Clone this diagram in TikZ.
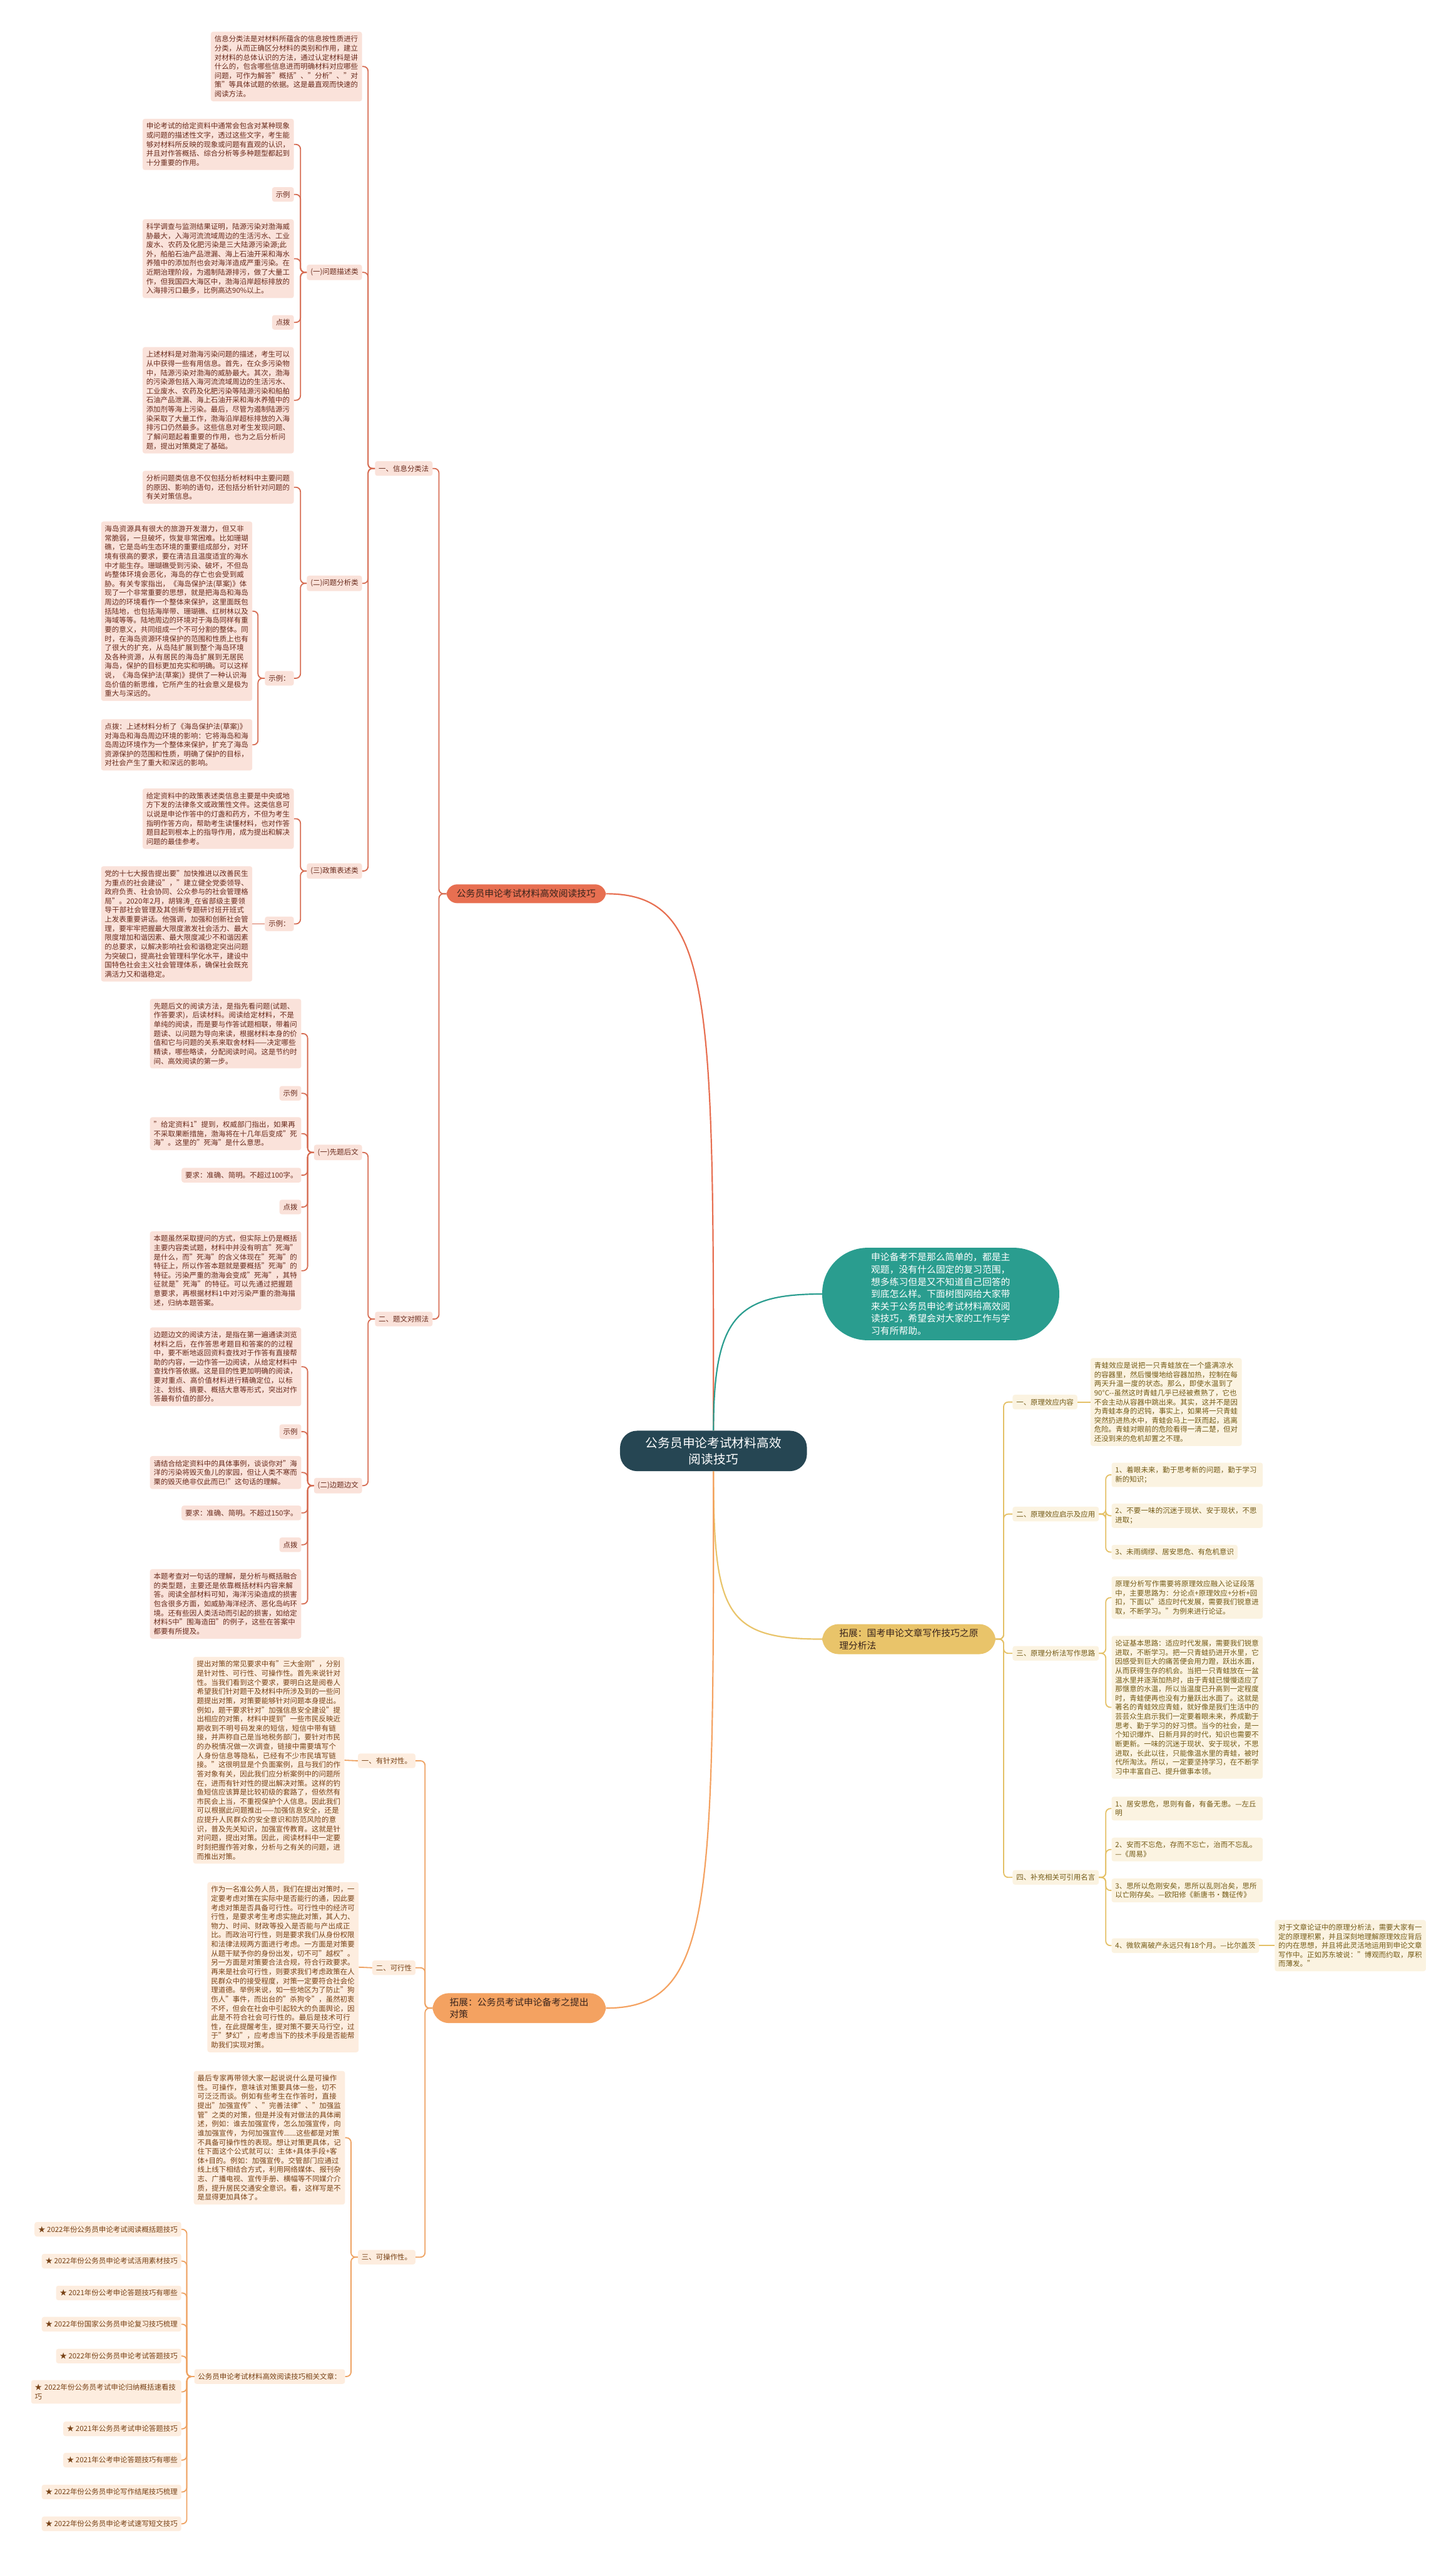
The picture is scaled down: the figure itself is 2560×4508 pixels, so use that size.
\documentclass[tikz,border=0pt]{standalone}
\usepackage{fontspec}
\setmainfont{Noto Sans CJK SC}
\XeTeXlinebreaklocale "zh"
\XeTeXlinebreakskip = 0pt plus 1pt
\usepackage{tikz}
\definecolor{rootc}{RGB}{38,70,83}
\definecolor{tealc}{RGB}{42,157,143}
\definecolor{yelc}{RGB}{233,196,106}
\definecolor{orgc}{RGB}{244,162,97}
\definecolor{redc}{RGB}{231,111,81}
\definecolor{redlt}{RGB}{250,226,218}
\definecolor{redtx}{RGB}{105,42,28}
\definecolor{redln}{RGB}{214,108,82}
\definecolor{orglt}{RGB}{253,237,223}
\definecolor{orgtx}{RGB}{120,66,22}
\definecolor{orgln}{RGB}{238,162,98}
\definecolor{yellt}{RGB}{251,243,225}
\definecolor{yeltx}{RGB}{115,90,22}
\definecolor{yelln}{RGB}{228,192,102}
\definecolor{darktx}{RGB}{58,36,28}

\begin{document}
\begin{tikzpicture}[
	x=1pt, y=-1pt,
	base/.style={font=\fontsize{12.6}{16.1}\selectfont, inner xsep=6.5pt,
		inner ysep=7pt, rounded corners=4pt, align=left},
	rbox/.style={base, fill=redlt, text=redtx},
	obox/.style={base, fill=orglt, text=orgtx},
	ybox/.style={base, fill=yellt, text=yeltx},
	wide/.style={text width=253pt},
	topic/.style={font=\fontsize{16.3}{21.6}\selectfont, align=left,
		text width=245pt, inner xsep=30pt, inner ysep=8pt, rounded corners=29pt},
	rl/.style={draw=redln, line width=2pt, rounded corners=8pt},
	ol/.style={draw=orgln, line width=2pt, rounded corners=8pt},
	yl/.style={draw=yelln, line width=2pt, rounded corners=8pt}
	]
	\useasboundingbox (0,0) rectangle (2560,4508);
	
	% center and main branches
	\node[fill=rootc, text=white, rounded corners=30pt, align=center,
		font=\fontsize{21.7}{29}\selectfont, inner xsep=45pt, inner ysep=11pt]
		(root) at (1255,2552) {公务员申论考试材料高效\\阅读技巧};
	\node[topic, fill=tealc, text=white, inner xsep=86pt, inner ysep=9pt,
		rounded corners=80pt, anchor=west] (intro) at (1446,2276)
		{申论备考不是那么简单的，都是主观题，没有什么固定的复习范围，想多练习但是又不知道自己回答的到底怎么样。下面树图网给大家带来关于公务员申论考试材料高效阅读技巧，希望会对大家的工作与学习有所帮助。};
	\node[fill=redc, text=darktx, font=\fontsize{16.3}{21.6}\selectfont,
		inner xsep=18pt, inner ysep=9pt, rounded corners=19pt, anchor=east]
		(fa) at (1066,1572) {公务员申论考试材料高效阅读技巧};
	\node[topic, fill=yelc, text=darktx, anchor=west] (tz1) at (1446,2883)
		{拓展：国考申论文章写作技巧之原理分析法};
	\node[topic, fill=orgc, text=darktx, anchor=east] (tz2) at (1066,3532)
		{拓展：公务员考试申论备考之提出对策};
	
	\draw[redc, line width=2.4pt] (root.north) .. controls +(0,-760) and +(190,0) .. (fa.east);
	\draw[tealc, line width=2.4pt] (root.north) .. controls +(0,-200) and +(-150,0) .. (intro.west);
	\draw[yelc, line width=2.4pt] (root.south) .. controls +(0,250) and +(-170,0) .. (tz1.west);
	\draw[orgc, line width=2.4pt] (root.south) .. controls +(0,760) and +(190,0) .. (tz2.east);
	
	% red branch
	\node[rbox, anchor=east] (m1) at (761,824) {一、信息分类法};
	\node[rbox, anchor=east] (m2) at (761,2320) {二、题文对照法};
	
	\node[rbox, wide, anchor=east] (m1t) at (637,117) {信息分类法是对材料所蕴含的信息按性质进行分类，从而正确区分材料的类别和作用，建立对材料的总体认识的方法，通过认定材料是讲什么的，包含哪些信息进而明确材料对应哪些问题，可作为解答"概括"、"分析"、"对策"等具体试题的依据。这是最直观而快速的阅读方法。};
	\node[rbox, anchor=east] (m1a) at (637,479) {(一)问题描述类};
	\node[rbox, anchor=east] (m1b) at (637,1026) {(二)问题分析类};
	\node[rbox, anchor=east] (m1c) at (637,1532) {(三)政策表述类};
	
	\node[rbox, wide, anchor=east] (m1a1) at (517,254) {申论考试的给定资料中通常会包含对某种现象或问题的描述性文字，透过这些文字，考生能够对材料所反映的现象或问题有直观的认识，并且对作答概括、综合分析等多种题型都起到十分重要的作用。};
	\node[rbox, anchor=east] (m1a2) at (517,342) {示例};
	\node[rbox, wide, anchor=east] (m1a3) at (517,455) {科学调查与监测结果证明，陆源污染对渤海威胁最大，入海河流流域周边的生活污水、工业废水、农药及化肥污染是三大陆源污染源;此外，船舶石油产品泄漏、海上石油开采和海水养殖中的添加剂也会对海洋造成严重污染。在近期治理阶段，为遏制陆源排污，做了大量工作，但我国四大海区中，渤海沿岸超标排放的入海排污口最多，比例高达90\%以上。};
	\node[rbox, anchor=east] (m1a4) at (517,567) {点拨};
	\node[rbox, wide, anchor=east] (m1a5) at (517,704) {上述材料是对渤海污染问题的描述，考生可以从中获得一些有用信息。首先，在众多污染物中，陆源污染对渤海的威胁最大。其次，渤海的污染源包括入海河流流域周边的生活污水、工业废水、农药及化肥污染等陆源污染和船舶石油产品泄漏、海上石油开采和海水养殖中的添加剂等海上污染。最后，尽管为遏制陆源污染采取了大量工作，渤海沿岸超标排放的入海排污口仍然最多。这些信息对考生发现问题、了解问题起着重要的作用，也为之后分析问题，提出对策奠定了基础。};
	
	\node[rbox, wide, anchor=east] (m1b1) at (517,857) {分析问题类信息不仅包括分析材料中主要问题的原因、影响的语句，还包括分析针对问题的有关对策信息。};
	\node[rbox, anchor=east] (m1b2) at (517,1193) {示例：};
	\node[rbox, wide, anchor=east] (m1b2a) at (444,1075) {海岛资源具有很大的旅游开发潜力，但又非常脆弱，一旦破坏，恢复非常困难。比如珊瑚礁，它是岛屿生态环境的重要组成部分，对环境有很高的要求，要在清洁且温度适宜的海水中才能生存。珊瑚礁受到污染、破坏，不但岛屿整体环境会恶化，海岛的存亡也会受到威胁。有关专家指出，《海岛保护法(草案)》体现了一个非常重要的思想，就是把海岛和海岛周边的环境看作一个整体来保护，这里面既包括陆地，也包括海岸带、珊瑚礁、红树林以及海域等等。陆地周边的环境对于海岛同样有重要的意义，共同组成一个不可分割的整体。同时，在海岛资源环境保护的范围和性质上也有了很大的扩充，从岛陆扩展到整个海岛环境及各种资源，从有居民的海岛扩展到无居民海岛，保护的目标更加充实和明确。可以这样说，《海岛保护法(草案)》提供了一种认识海岛价值的新思维，它所产生的社会意义是极为重大与深远的。};
	\node[rbox, wide, anchor=east] (m1b2b) at (444,1310) {点拨：上述材料分析了《海岛保护法(草案)》对海岛和海岛周边环境的影响：它将海岛和海岛周边环境作为一个整体来保护，扩充了海岛资源保护的范围和性质，明确了保护的目标，对社会产生了重大和深远的影响。};
	
	\node[rbox, wide, anchor=east] (m1c1) at (517,1440) {给定资料中的政策表述类信息主要是中央或地方下发的法律条文或政策性文件。这类信息可以说是申论作答中的灯盏和药方，不但为考生指明作答方向，帮助考生读懂材料，也对作答题目起到根本上的指导作用，成为提出和解决问题的最佳参考。};
	\node[rbox, anchor=east] (m1c2) at (517,1625) {示例：};
	\node[rbox, wide, anchor=east] (m1c2a) at (444,1625) {党的十七大报告提出要"加快推进以改善民生为重点的社会建设"，"建立健全党委领导、政府负责、社会协同、公众参与的社会管理格局"。2020年2月，胡锦涛\_在省部级主要领导干部社会管理及其创新专题研讨班开班式上发表重要讲话。他强调，加强和创新社会管理，要牢牢把握最大限度激发社会活力、最大限度增加和谐因素、最大限度减少不和谐因素的总要求，以解决影响社会和谐稳定突出问题为突破口，提高社会管理科学化水平，建设中国特色社会主义社会管理体系，确保社会既充满活力又和谐稳定。};
	
	\node[rbox, anchor=east] (m2a) at (637,2027) {(一)先题后文};
	\node[rbox, anchor=east] (m2b) at (637,2613) {(二)边题边文};
	
	\node[rbox, wide, anchor=east] (m2a1) at (530,1818) {先题后文的阅读方法，是指先看问题(试题、作答要求)，后读材料。阅读给定材料，不是单纯的阅读，而是要与作答试题相联，带着问题读、以问题为导向来读，根据材料本身的价值和它与问题的关系来取舍材料——决定哪些精读，哪些略读，分配阅读时间。这是节约时间、高效阅读的第一步。};
	\node[rbox, anchor=east] (m2a2) at (530,1923) {示例};
	\node[rbox, wide, anchor=east] (m2a3) at (530,1994) {"给定资料1"提到，权威部门指出，如果再不采取果断措施，渤海将在十几年后变成"死海"。这里的"死海"是什么意思。};
	\node[rbox, anchor=east] (m2a4) at (530,2067) {要求：准确、简明。不超过100字。};
	\node[rbox, anchor=east] (m2a5) at (530,2123) {点拨};
	\node[rbox, wide, anchor=east] (m2a6) at (530,2235) {本题虽然采取提问的方式，但实际上仍是概括主要内容类试题，材料中并没有明言"死海"是什么，而"死海"的含义体现在"死海"的特征上，所以作答本题就是要概括"死海"的特征。污染严重的渤海会变成"死海"，其特征就是"死海"的特征。可以先通过把握题意要求，再根据材料1中对污染严重的渤海描述，归纳本题答案。};
	
	\node[rbox, wide, anchor=east] (m2b1) at (530,2404) {边题边文的阅读方法，是指在第一遍通读浏览材料之后，在作答思考题目和答案的的过程中，要不断地返回资料查找对于作答有直接帮助的内容，一边作答一边阅读，从给定材料中查找作答依据。这是目的性更加明确的阅读，要对重点、高价值材料进行精确定位，以标注、划线、摘要、概括大意等形式，突出对作答最有价值的部分。};
	\node[rbox, anchor=east] (m2b2) at (530,2518) {示例};
	\node[rbox, wide, anchor=east] (m2b3) at (530,2590) {请结合给定资料中的具体事例，谈谈你对"海洋的污染将毁灭鱼儿的家园，但让人类不寒而栗的毁灭绝非仅此而已!"这句话的理解。};
	\node[rbox, anchor=east] (m2b4) at (530,2661) {要求：准确、简明。不超过150字。};
	\node[rbox, anchor=east] (m2b5) at (530,2717) {点拨};
	\node[rbox, wide, anchor=east] (m2b6) at (530,2821) {本题考查对一句话的理解，是分析与概括融合的类型题，主要还是依靠概括材料内容来解答。阅读全部材料可知，海洋污染造成的损害包含很多方面，如威胁海洋经济、恶化岛屿环境。还有些因人类活动而引起的损害，如给定材料5中"围海造田"的例子，这些在答案中都要有所提及。};
	
	\draw[rl] (fa.west) -- ++(-13,0) |- (m1.east);
	\draw[rl] (fa.west) -- ++(-13,0) |- (m2.east);
	\foreach \c in {m1t,m1a,m1b,m1c}
		\draw[rl] (m1.west) -- ++(-12,0) |- (\c.east);
	\foreach \c in {m1a1,m1a2,m1a3,m1a4,m1a5}
		\draw[rl] (m1a.west) -- ++(-11,0) |- (\c.east);
	\foreach \c in {m1b1,m1b2}
		\draw[rl] (m1b.west) -- ++(-11,0) |- (\c.east);
	\foreach \c in {m1b2a,m1b2b}
		\draw[rl] (m1b2.west) -- ++(-12,0) |- (\c.east);
	\foreach \c in {m1c1,m1c2}
		\draw[rl] (m1c.west) -- ++(-11,0) |- (\c.east);
	\draw[rl] (m1c2.west) -- (m1c2a.east);
	\foreach \c in {m2a,m2b}
		\draw[rl] (m2.west) -- ++(-12,0) |- (\c.east);
	\foreach \c in {m2a1,m2a2,m2a3,m2a4,m2a5,m2a6}
		\draw[rl] (m2a.west) -- ++(-11,0) |- (\c.east);
	\foreach \c in {m2b1,m2b2,m2b3,m2b4,m2b5,m2b6}
		\draw[rl] (m2b.west) -- ++(-11,0) |- (\c.east);
	
	% orange branch
	\node[obox, anchor=east] (d1) at (731,3097) {一、有针对性。};
	\node[obox, anchor=east] (d2) at (731,3461) {二、可行性};
	\node[obox, anchor=east] (d3) at (731,3970) {三、可操作性。};
	
	\node[obox, wide, anchor=east] (d1a) at (606,3096) {提出对策的常见要求中有"三大金刚"，分别是针对性、可行性、可操作性。首先来说针对性。当我们看到这个要求，要明白这是阅卷人希望我们针对题干及材料中所涉及到的一些问题提出对策，对策要能够针对问题本身提出。例如，题干要求针对"加强信息安全建设"提出相应的对策，材料中提到"一些市民反映近期收到不明号码发来的短信，短信中带有链接，并声称自己是当地税务部门，要针对市民的办税情况做一次调查，链接中需要填写个人身份信息等隐私，已经有不少市民填写链接。"这很明显是个负面案例，且与我们的作答对象有关，因此我们应分析案例中的问题所在，进而有针对性的提出解决对策。这样的钓鱼短信应该算是比较初级的套路了，但依然有市民会上当，不重视保护个人信息。因此我们可以根据此问题推出——加强信息安全，还是应提升人民群众的安全意识和防范风险的意识，普及先关知识，加强宣传教育。这就是针对问题，提出对策。因此，阅读材料中一定要时刻把握作答对象，分析与之有关的问题，进而推出对策。};
	\node[obox, wide, anchor=east] (d2a) at (631,3460) {作为一名准公务人员，我们在提出对策时，一定要考虑对策在实际中是否能行的通，因此要考虑对策是否具备可行性。可行性中的经济可行性，是要求考生考虑实施此对策，其人力、物力、时间、财政等投入是否能与产出成正比。而政治可行性，则是要求我们从身份权限和法律法规两方面进行考虑。一方面是对策要从题干赋予你的身份出发，切不可"越权"。另一方面是对策要合法合规，符合行政要求。再来是社会可行性，则要求我们考虑政策在人民群众中的接受程度，对策一定要符合社会伦理道德。举例来说，如一些地区为了防止"狗伤人"事件，而出台的"杀狗令"，虽然初衷不坏，但会在社会中引起较大的负面舆论，因此是不符合社会可行性的。最后是技术可行性，在此提醒考生，提对策不要天马行空，过于"梦幻"，应考虑当下的技术手段是否能帮助我们实现对策。};
	\node[obox, wide, anchor=east] (d3a) at (607,3760) {最后专家再带领大家一起说说什么是可操作性。可操作，意味该对策要具体一些，切不可泛泛而谈。例如有些考生在作答时，直接提出"加强宣传"、"完善法律"、"加强监管"之类的对策，但是并没有对做法的具体阐述，例如：谁去加强宣传，怎么加强宣传，向谁加强宣传，为何加强宣传......这些都是对策不具备可操作性的表现。想让对策更具体，记住下面这个公式就可以：主体+具体手段+客体+目的。例如：加强宣传。交管部门应通过线上线下相结合方式，利用网络媒体、报刊杂志、广播电视、宣传手册、横幅等不同媒介介质，提升居民交通安全意识。看，这样写是不是显得更加具体了。};
	\node[obox, anchor=east] (d3b) at (607,4180) {公务员申论考试材料高效阅读技巧相关文章：};
	
	\node[obox, anchor=east] (r1) at (319,3921) {★ 2022年份公务员申论考试阅读概括题技巧};
	\node[obox, anchor=east] (r2) at (319,3977) {★ 2022年份公务员申论考试活用素材技巧};
	\node[obox, anchor=east] (r3) at (319,4033) {★ 2021年份公考申论答题技巧有哪些};
	\node[obox, anchor=east] (r4) at (319,4088) {★ 2022年份国家公务员申论复习技巧梳理};
	\node[obox, anchor=east] (r5) at (319,4144) {★ 2022年份公务员申论考试答题技巧};
	\node[obox, anchor=east, text width=251pt] (r6) at (319,4207) {★ 2022年份公务员考试申论归纳概括速看技巧};
	\node[obox, anchor=east] (r7) at (319,4272) {★ 2021年公务员考试申论答题技巧};
	\node[obox, anchor=east] (r8) at (319,4327) {★ 2021年公考申论答题技巧有哪些};
	\node[obox, anchor=east] (r9) at (319,4383) {★ 2022年份公务员申论写作结尾技巧梳理};
	\node[obox, anchor=east] (r10) at (319,4439) {★ 2022年份公务员申论考试速写短文技巧};
	
	\foreach \c in {d1,d2,d3}
		\draw[ol] (tz2.west) -- ++(-13,0) |- (\c.east);
	\draw[ol] (d1.west) -- (d1a.east);
	\draw[ol] (d2.west) -- (d2a.east);
	\foreach \c in {d3a,d3b}
		\draw[ol] (d3.west) -- ++(-12,0) |- (\c.east);
	\foreach \c in {r1,r2,r3,r4,r5,r6,r7,r8,r9,r10}
		\draw[ol] (d3b.west) -- ++(-13,0) |- (\c.east);
	
	% yellow branch
	\node[ybox, anchor=west] (y1) at (1781,2466) {一、原理效应内容};
	\node[ybox, anchor=west] (y2) at (1781,2663) {二、原理效应启示及应用};
	\node[ybox, anchor=west] (y3) at (1781,2908) {三、原理分析法写作思路};
	\node[ybox, anchor=west] (y4) at (1781,3302) {四、补充相关可引用名言};
	
	\node[ybox, wide, anchor=west] (y1a) at (1918,2466) {青蛙效应是说把一只青蛙放在一个盛满凉水的容器里，然后慢慢地给容器加热，控制在每两天升温一度的状态。那么，即使水温到了90°C-{}-虽然这时青蛙几乎已经被煮熟了，它也不会主动从容器中跳出来。其实，这并不是因为青蛙本身的迟钝，事实上，如果将一只青蛙突然扔进热水中，青蛙会马上一跃而起，逃离危险。青蛙对眼前的危险看得一清二楚，但对还没到来的危机却置之不理。};
	\node[ybox, wide, anchor=west] (y2a) at (1955,2594) {1、着眼未来，勤于思考新的问题，勤于学习新的知识；};
	\node[ybox, wide, anchor=west] (y2b) at (1955,2666) {2、不要一味的沉迷于现状、安于现状，不思进取；};
	\node[ybox, anchor=west] (y2c) at (1955,2730) {3、未雨绸缪、居安思危、有危机意识};
	\node[ybox, wide, anchor=west] (y3a) at (1955,2810) {原理分析写作需要将原理效应融入论证段落中，主要思路为：分论点+原理效应+分析+回扣，下面以"适应时代发展，需要我们锐意进取，不断学习。"为例来进行论证。};
	\node[ybox, wide, anchor=west] (y3b) at (1955,3003) {论证基本思路：适应时代发展，需要我们锐意进取，不断学习。把一只青蛙扔进开水里，它因感受到巨大的痛苦便会用力蹬，跃出水面，从而获得生存的机会。当把一只青蛙放在一盆温水里并逐渐加热时，由于青蛙已慢慢适应了那惬意的水温，所以当温度已升高到一定程度时，青蛙便再也没有力量跃出水面了。这就是著名的青蛙效应青蛙，就好像是我们生活中的芸芸众生启示我们一定要着眼未来，养成勤于思考、勤于学习的好习惯。当今的社会，是一个知识爆炸、日新月异的时代，知识也需要不断更新。一味的沉迷于现状、安于现状，不思进取，长此以往，只能像温水里的青蛙，被时代所淘汰。所以，一定要坚持学习，在不断学习中丰富自己、提升做事本领。};
	\node[ybox, wide, anchor=west] (y4a) at (1955,3181) {1、居安思危，思则有备，有备无患。—左丘明};
	\node[ybox, wide, anchor=west] (y4b) at (1955,3253) {2、安而不忘危，存而不忘亡，治而不忘乱。—《周易》};
	\node[ybox, wide, anchor=west] (y4c) at (1955,3325) {3、思所以危刚安矣，思所以乱则冶矣，思所以亡刚存矣。—欧阳修《新唐书·魏征传》};
	\node[ybox, anchor=west] (y4d) at (1955,3422) {4、微软离破产永远只有18个月。—比尔盖茨};
	\node[ybox, wide, anchor=west] (y4d1) at (2242,3422) {对于文章论证中的原理分析法，需要大家有一定的原理积累，并且深刻地理解原理效应背后的内在思想，并且将此灵活地运用到申论文章写作中。正如苏东坡说："博观而约取，厚积而薄发。"};
	
	\foreach \c in {y1,y2,y3,y4}
		\draw[yl] (tz1.east) -- ++(14,0) |- (\c.west);
	\draw[yl] (y1.east) -- (y1a.west);
	\foreach \c in {y2a,y2b,y2c}
		\draw[yl] (y2.east) -- ++(12,0) |- (\c.west);
	\foreach \c in {y3a,y3b}
		\draw[yl] (y3.east) -- ++(12,0) |- (\c.west);
	\foreach \c in {y4a,y4b,y4c,y4d}
		\draw[yl] (y4.east) -- ++(12,0) |- (\c.west);
	\draw[yl] (y4d.east) -- (y4d1.west);
\end{tikzpicture}
\end{document}
